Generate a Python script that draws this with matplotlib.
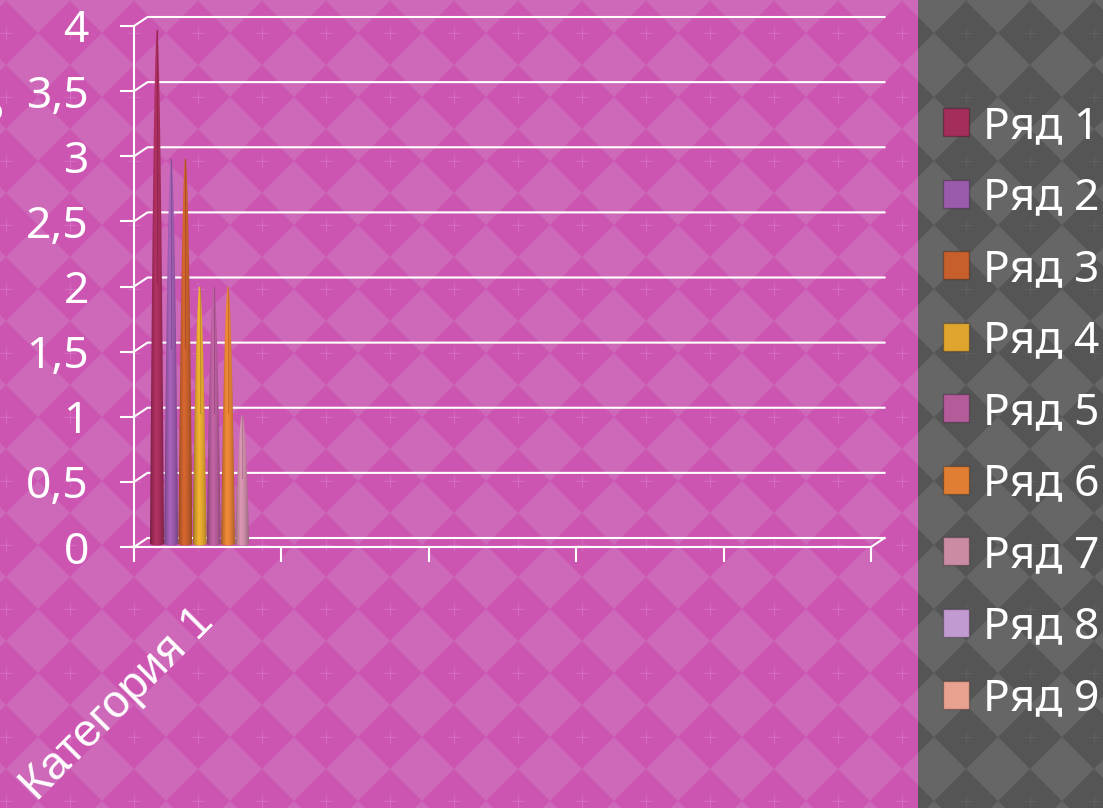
#!/usr/bin/env python3
# -*- coding: utf-8 -*-
"""Cone chart on a diamond patterned slide background."""

import numpy as np
import matplotlib
matplotlib.use("Agg")
import matplotlib.pyplot as plt
from matplotlib.collections import PolyCollection, LineCollection
from matplotlib.patches import Patch, Polygon, Rectangle
from matplotlib.transforms import ScaledTranslation

# data
series = ["Ряд 1", "Ряд 2", "Ряд 3", "Ряд 4", "Ряд 5", "Ряд 6", "Ряд 7", "Ряд 8", "Ряд 9"]
values = [4, 3, 3, 2, 2, 2, 1, 0, 0]
colors = ["#A52D5C", "#9B5BAC", "#C65F2C", "#E0A52E", "#B45C99", "#E07F33", "#CB8BA5", "#C29AD2", "#E8A18E"]
categories = ["Категория 1", "", "", "", ""]
y_ticks = [0, 0.5, 1, 1.5, 2, 2.5, 3, 3.5, 4]
y_labels = ["0", "0,5", "1", "1,5", "2", "2,5", "3", "3,5", "4"]

W, H = 1103, 808
white = "#FFFFFF"
font = "Noto Sans"

fig = plt.figure(figsize=(W / 100, H / 100), dpi=100)

# background pattern, in pixels
bg = fig.add_axes([0, 0, 1, 1])
bg.set_xlim(0, W)
bg.set_ylim(H, 0)
bg.axis("off")


def diamond(cx, cy, r=32):
    return [(cx - r, cy), (cx, cy - r), (cx + r, cy), (cx, cy + r)]


light_cells = [diamond(38 + 64 * i - 64, 1 + 64 * j) for i in range(20) for j in range(15)]
crosses = []
for i in range(19):
    for j in range(14):
        cx, cy = 6 + 64 * i, 33 + 64 * j
        crosses.append([(cx - 6, cy), (cx + 6, cy)])
        crosses.append([(cx, cy - 6), (cx, cy + 6)])

panels = [
    ((0, 918), "#CC55B2", "#CE68B8", "#DB86CB"),
    ((918, W), "#555555", "#666666", "#6C6C6C"),
]
for (left, right), dark, light, cross in panels:
    clip = Rectangle((left, 0), right - left, H, transform=bg.transData)
    bg.add_patch(Rectangle((left, 0), right - left, H, facecolor=dark, edgecolor="none"))
    lights = PolyCollection(light_cells, facecolors=light, edgecolors="none")
    bg.add_collection(lights)
    lights.set_clip_path(clip)
    marks = LineCollection(crosses, colors=cross, linewidths=0.8, alpha=0.45)
    bg.add_collection(marks)
    marks.set_clip_path(clip)

# edge of the cut off axis title
bg.text(-9, 110, "о", color=white, fontsize=27, family=font, ha="center", va="center", rotation=90)

# front plane of the plot
x0, x1, y_front, y_top = 134, 871, 547, 26
ax = fig.add_axes([x0 / W, 1 - y_front / H, (x1 - x0) / W, (y_front - y_top) / H])
ax.patch.set_alpha(0)
ax.set_xlim(0, len(categories))
ax.set_ylim(0, 4)

px_x = len(categories) / (x1 - x0)
px_y = 4 / (y_front - y_top)
depth_x, depth_y = 13.5 * px_x, 9 * px_y

# back wall lines with the slanted joins
for v in y_ticks:
    ax.plot([0, depth_x, len(categories) + depth_x], [v, v + depth_y, v + depth_y],
            color=white, lw=1.5, clip_on=False, zorder=1, solid_joinstyle="miter")
ax.plot([len(categories), len(categories) + depth_x], [0, depth_y], color=white, lw=1.5, clip_on=False, zorder=1)

# cones
t = np.linspace(0, np.pi, 40)
shade_x = [0, 0.15, 0.42, 0.7, 1]
shade_v = [0.68, 0.88, 1.1, 0.98, 0.76]
base_half = 7 * px_x
base_y = 3.5 * px_y
for i, (v, c) in enumerate(zip(values, colors)):
    if v == 0:
        continue
    cx = (23 + 14.2 * i) * px_x
    top = base_y + v * 0.985
    ys = np.linspace(top, base_y, 60)
    half = base_half * ((top - ys) / (top - base_y)) ** 0.5
    half = np.maximum(half, 0.7 * px_x)
    arc_x = cx + base_half * np.cos(t)
    arc_y = base_y - 2.0 * px_y * np.sin(t)
    outline = np.vstack([
        np.column_stack([cx + half, ys]),
        np.column_stack([arc_x[1:], arc_y[1:]]),
        np.column_stack([cx - half[::-1], ys[::-1]]),
    ])
    rgb = np.array(matplotlib.colors.to_rgb(c))
    gx = np.linspace(0, 1, 64)
    grad = np.clip(np.outer(np.interp(gx, shade_x, shade_v), rgb), 0, 1)[np.newaxis, :, :]
    im = ax.imshow(grad, extent=[cx - base_half, cx + base_half, base_y - 2.0 * px_y, top],
                   aspect="auto", zorder=3 + i, interpolation="bilinear")
    im.set_clip_path(Polygon(outline, closed=True, transform=ax.transData))
    # the tips read darker than the body
    ax.plot([cx, cx], [base_y + v * 0.5, top], color=rgb * 0.75, lw=0.8, alpha=0.6, zorder=3 + i)
ax.set_xlim(0, len(categories))
ax.set_ylim(0, 4)

# axes
for side in ["top", "right"]:
    ax.spines[side].set_visible(False)
for side in ["left", "bottom"]:
    ax.spines[side].set_color(white)
    ax.spines[side].set_linewidth(1.5)
ax.set_yticks(y_ticks)
ax.set_yticklabels(y_labels, color=white, fontsize=32, family=font)
ax.tick_params(axis="y", length=10, width=1.5, color=white, pad=22.5)
ax.set_xticks(np.arange(len(categories) + 1))
ax.set_xticklabels([])
ax.tick_params(axis="x", which="major", length=11, width=1.5, color=white)
ax.set_xticks(np.arange(len(categories)) + 0.5, minor=True)
ax.set_xticklabels(categories, minor=True, color=white, fontsize=33, family="Liberation Sans",
                   rotation=45, ha="right", rotation_mode="anchor")
ax.tick_params(axis="x", which="minor", length=0, pad=38)
for label in ax.get_xticklabels(minor=True):
    label.set_transform(label.get_transform() + ScaledTranslation(-0.16, 0, fig.dpi_scale_trans))

# legend
handles = [Patch(facecolor=c, edgecolor="#00000040", lw=1) for c in colors]
ax.legend(handles, series, loc="center left", bbox_to_anchor=(943 / W, 1 - 413 / H),
          bbox_transform=fig.transFigure, frameon=False, labelcolor=white,
          prop={"family": font, "size": 32}, handlelength=0.59, handleheight=0.59,
          handletextpad=0.32, labelspacing=0.62, borderpad=0, borderaxespad=0)

fig.savefig("out.png", dpi=100)
